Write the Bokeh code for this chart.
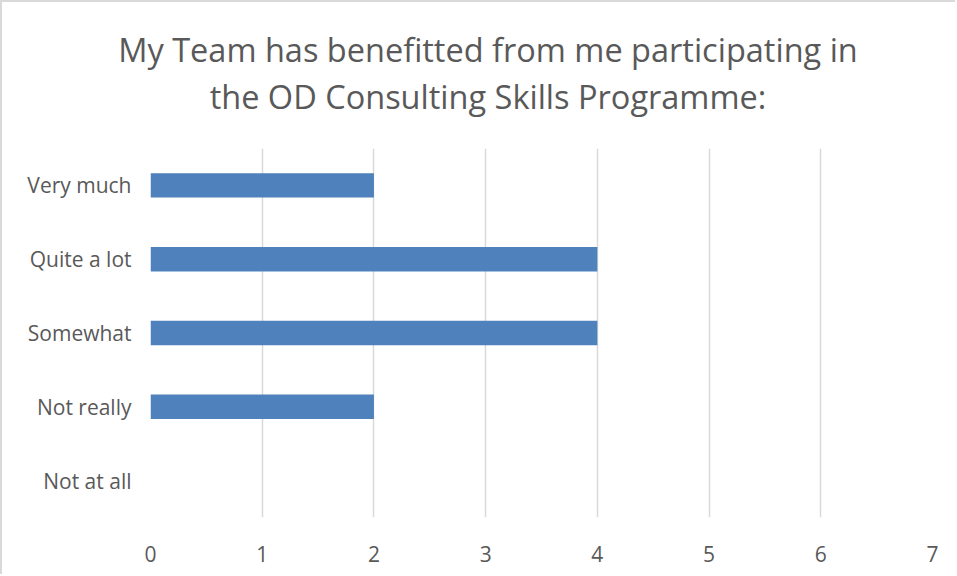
from bokeh.plotting import figure
from bokeh.layouts import column
from bokeh.models import FactorRange, Range1d, Label, FixedTicker
from bokeh.embed import file_html
from bokeh.resources import INLINE

categories = ["Very much", "Quite a lot", "Somewhat", "Not really", "Not at all"]
counts = [2, 4, 4, 2, 0]
x_ticks = [0, 1, 2, 3, 4, 5, 6, 7]
title_lines = ["My Team has benefitted from me participating in",
               "the OD Consulting Skills Programme:"]

FONT = "Open Sans"
TEXT = "#595959"
GRID = "#d9d9d9"

# header holding the two-line chart title
head = figure(width=953, height=146, output_backend="svg", toolbar_location=None,
              x_axis_location=None, y_axis_location=None,
              min_border=0)
head.frame_align = False
head.title.visible = False
head.outline_line_color = None
head.xgrid.grid_line_color = None
head.ygrid.grid_line_color = None
for line, ypos in zip(title_lines, [99, 52]):
    head.add_layout(Label(x=485.5, y=ypos, x_units="screen", y_units="screen",
                          text=line, text_align="center", text_baseline="alphabetic",
                          text_font=FONT, text_font_size="32.5px", text_color=TEXT))

p = figure(width=953, height=426,
           y_range=FactorRange(*categories[::-1]),
           x_range=Range1d(0, 7),
           output_backend="svg", toolbar_location=None,
           min_border_left=148, min_border_right=23,
           min_border_top=0, min_border_bottom=57)
p.title.visible = False
p.outline_line_color = None
p.background_fill_color = "white"
p.border_fill_color = "white"

p.hbar(y=categories, right=counts, left=0, height=0.33,
       fill_color="#4f81bd", line_color=None)

p.xaxis.ticker = FixedTicker(ticks=x_ticks)
p.xaxis.axis_line_color = None
p.xaxis.major_tick_line_color = None
p.xaxis.minor_tick_line_color = None
p.xaxis.major_label_standoff = 22
p.xaxis.major_label_text_font = FONT
p.xaxis.major_label_text_font_size = "21px"
p.xaxis.major_label_text_color = TEXT

p.yaxis.axis_line_color = None
p.yaxis.major_tick_line_color = None
p.yaxis.minor_tick_line_color = None
p.yaxis.major_label_standoff = 13
p.yaxis.major_label_text_font = FONT
p.yaxis.major_label_text_font_size = "21px"
p.yaxis.major_label_text_color = TEXT

p.ygrid.grid_line_color = None
p.xgrid.grid_line_color = GRID
p.xgrid.grid_line_width = 1.5

layout = column(head, p, spacing=0)
layout.styles = {"border-top": "2px solid #d9d9d9", "border-left": "2px solid #d9d9d9"}

open("out.html", "w").write(file_html(layout, INLINE))
